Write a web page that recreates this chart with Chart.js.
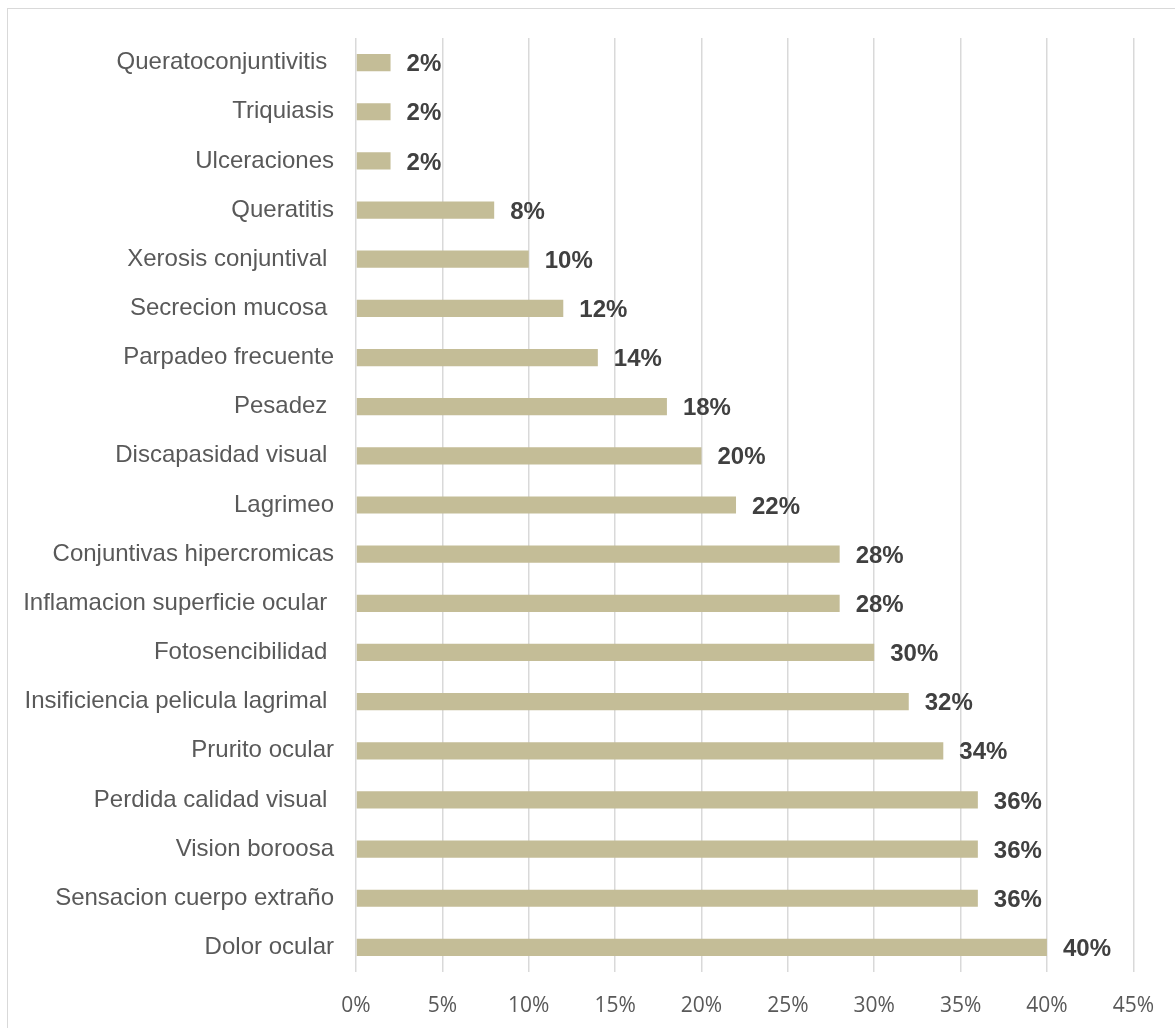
<!DOCTYPE html>
<html>
<head>
<meta charset="utf-8">
<script src="https://cdn.jsdelivr.net/npm/chart.js@4/dist/chart.umd.min.js"></script>
<style>
	html, body {
		margin: 0;
		padding: 0;
		background: #fff;
		overflow: hidden;
	}
	.wrap {
		position: relative;
		width: 1175px;
		height: 1028px;
	}
	.frame {
		position: absolute;
		left: 7px;
		top: 8px;
		width: 1200px;
		height: 1100px;
		border: 1.5px solid #d9d9d9;
	}
	#chart {
		position: absolute;
		left: 0;
		top: 0;
	}
</style>
</head>
<body>
<div class="wrap">
	<div class="frame"></div>
	<canvas id="chart" width="1175" height="1028"></canvas>
</div>
<script>
// some labels keep the trailing space they had in the source sheet
const sintomas = [
	'Queratoconjuntivitis ',
	'Triquiasis',
	'Ulceraciones',
	'Queratitis',
	'Xerosis conjuntival ',
	'Secrecion mucosa ',
	'Parpadeo frecuente',
	'Pesadez ',
	'Discapasidad visual ',
	'Lagrimeo',
	'Conjuntivas hipercromicas',
	'Inflamacion superficie ocular ',
	'Fotosencibilidad ',
	'Insificiencia pelicula lagrimal ',
	'Prurito ocular',
	'Perdida calidad visual ',
	'Vision boroosa',
	'Sensacion cuerpo extraño',
	'Dolor ocular',
];

const porcentajes = [2, 2, 2, 8, 10, 12, 14, 18, 20, 22, 28, 28, 30, 32, 34, 36, 36, 36, 40];

const ejeMax = 45;
const ejePaso = 5;

// value labels at the end of each bar
const etiquetas = {
	id: 'etiquetas',
	afterDatasetsDraw(chart) {
		const { ctx } = chart;
		const meta = chart.getDatasetMeta(0);
		ctx.save();
		ctx.font = 'bold 24px "Liberation Sans", Arial, sans-serif';
		ctx.fillStyle = '#404040';
		ctx.textAlign = 'left';
		ctx.textBaseline = 'middle';
		meta.data.forEach((bar, i) => {
			ctx.fillText(porcentajes[i] + '%', bar.x + 16, bar.y + 2);
		});
		ctx.restore();
	},
};

let ctx = document.getElementById('chart').getContext('2d');
let sintomasChart = new Chart(ctx, {
	type: 'bar',
	data: {
		labels: sintomas,
		datasets: [
			{
				label: 'Porcentaje',
				data: porcentajes,
				backgroundColor: '#c4bd97',
				borderWidth: 0,
				barPercentage: 0.35,
				categoryPercentage: 1,
			},
		],
	},
	options: {
		indexAxis: 'y',
		responsive: false,
		animation: false,
		layout: {
			padding: { top: 38, right: 40, bottom: 0, left: 0 },
		},
		scales: {
			x: {
				min: 0,
				max: ejeMax,
				afterFit: (scale) => { scale.height = 56; },
				ticks: {
					stepSize: ejePaso,
					padding: 21,
					color: '#595959',
					font: { family: '"Open Sans", sans-serif', size: 21 },
					callback: (v) => v + '%',
				},
				grid: {
					display: true,
					drawTicks: false,
					color: '#d9d9d9',
					lineWidth: 1.5,
				},
				border: { display: false },
			},
			y: {
				afterFit: (scale) => { scale.width = 356; },
				ticks: {
					padding: 22,
					color: '#595959',
					font: { family: '"Liberation Sans", Arial, sans-serif', size: 24 },
					autoSkip: false,
				},
				grid: { display: false, drawTicks: false },
				border: { display: false },
			},
		},
		plugins: {
			legend: { display: false },
			tooltip: { enabled: false },
		},
	},
	plugins: [etiquetas],
});
</script>
</body>
</html>
